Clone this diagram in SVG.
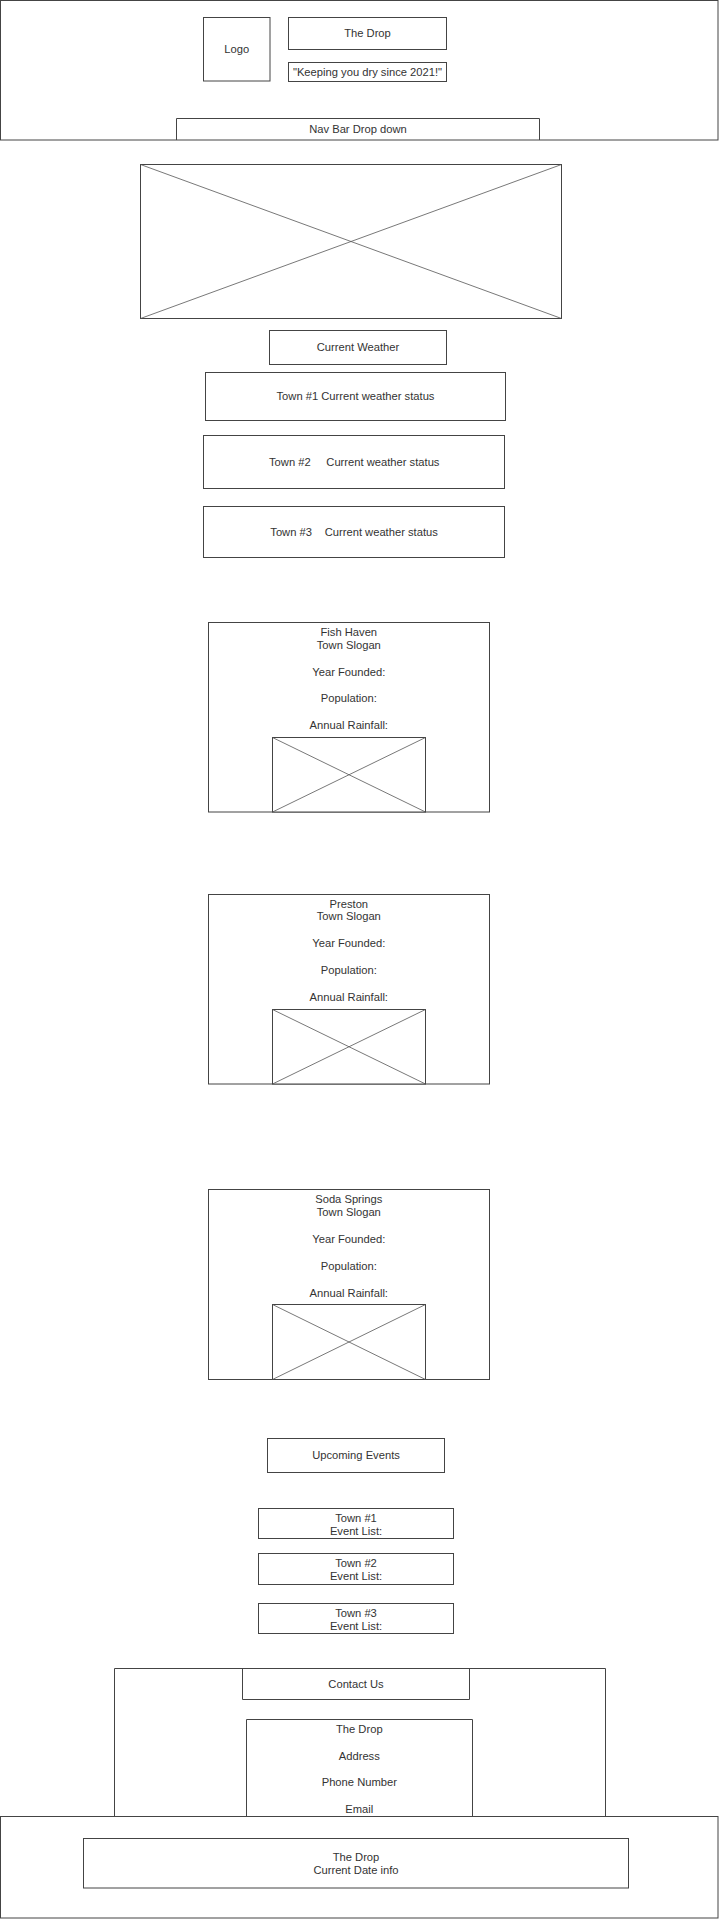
<svg xmlns="http://www.w3.org/2000/svg" width="719" height="1920" viewBox="0 0 719 1920">
<style>
  .b{fill:#fff;stroke:#444;stroke-width:1}
  .n{fill:none;stroke:#444;stroke-width:1}
  .x{stroke:#555;stroke-width:0.8}
  text{font-family:"Liberation Sans",Arial,sans-serif;font-size:11.2px;fill:#333;text-anchor:middle;dominant-baseline:central}
  .l{text-anchor:start}
</style>
<rect width="719" height="1920" fill="#fff"/>

<g id="header">
  <rect class="b" x="0.5" y="0.5" width="717.5" height="139.5"/>
</g>
<g id="logo">
  <rect class="b" x="203.5" y="17.5" width="66.5" height="63.5"/>
  <text x="236.8" y="49.3">Logo</text>
</g>
<g id="title">
  <rect class="b" x="288.5" y="17.5" width="158" height="32"/>
  <text x="367.5" y="33.3">The Drop</text>
</g>
<g id="slogan">
  <rect class="b" x="288.5" y="62.5" width="158" height="19"/>
  <text x="367.5" y="72">"Keeping you dry since 2021!"</text>
</g>
<g id="navbar">
  <path class="n" d="M176.5,140 V118.5 H539.5 V140"/>
  <text x="358" y="129">Nav Bar Drop down</text>
</g>

<g id="hero">
  <rect class="b" x="140.5" y="164.5" width="421" height="154"/>
  <line class="x" x1="140.5" y1="164.5" x2="561.5" y2="318.5"/>
  <line class="x" x1="561.5" y1="164.5" x2="140.5" y2="318.5"/>
</g>

<g id="current-weather">
  <rect class="b" x="269.5" y="330.5" width="177" height="34"/>
  <text x="358" y="347">Current Weather</text>
</g>
<g id="town1-weather">
  <rect class="b" x="205.5" y="372.5" width="300" height="48"/>
  <text x="355.5" y="396.3">Town #1 Current weather status</text>
</g>
<g id="town2-weather">
  <rect class="b" x="203.5" y="435.5" width="301" height="53"/>
  <text class="l" x="269" y="462">Town #2</text>
  <text class="l" x="326.3" y="462">Current weather status</text>
</g>
<g id="town3-weather">
  <rect class="b" x="203.5" y="506.5" width="301" height="51"/>
  <text class="l" x="270.3" y="531.5">Town #3</text>
  <text class="l" x="324.7" y="531.5">Current weather status</text>
</g>

<g id="fish-haven">
  <rect class="b" x="208.5" y="622.5" width="281" height="189.5"/>
  <text x="348.8" y="631.7">Fish Haven</text>
  <text x="348.8" y="644.6">Town Slogan</text>
  <text x="348.8" y="671.5">Year Founded:</text>
  <text x="348.8" y="698.3">Population:</text>
  <text x="348.8" y="725">Annual Rainfall:</text>
  <rect class="b" x="272.5" y="737.5" width="153" height="74.5"/>
  <line class="x" x1="272.5" y1="737.5" x2="425.5" y2="812"/>
  <line class="x" x1="425.5" y1="737.5" x2="272.5" y2="812"/>
</g>

<g id="preston">
  <rect class="b" x="208.5" y="894.5" width="281" height="189.5"/>
  <text x="348.8" y="903.5">Preston</text>
  <text x="348.8" y="916.2">Town Slogan</text>
  <text x="348.8" y="943.3">Year Founded:</text>
  <text x="348.8" y="970">Population:</text>
  <text x="348.8" y="996.7">Annual Rainfall:</text>
  <rect class="b" x="272.5" y="1009.5" width="153" height="74.5"/>
  <line class="x" x1="272.5" y1="1009.5" x2="425.5" y2="1084"/>
  <line class="x" x1="425.5" y1="1009.5" x2="272.5" y2="1084"/>
</g>

<g id="soda-springs">
  <rect class="b" x="208.5" y="1189.5" width="281" height="190"/>
  <text x="348.8" y="1198.8">Soda Springs</text>
  <text x="348.8" y="1212.3">Town Slogan</text>
  <text x="348.8" y="1239.3">Year Founded:</text>
  <text x="348.8" y="1265.6">Population:</text>
  <text x="348.8" y="1292.7">Annual Rainfall:</text>
  <rect class="b" x="272.5" y="1304.5" width="153" height="75"/>
  <line class="x" x1="272.5" y1="1304.5" x2="425.5" y2="1379.5"/>
  <line class="x" x1="425.5" y1="1304.5" x2="272.5" y2="1379.5"/>
</g>

<g id="upcoming-events">
  <rect class="b" x="267.5" y="1438.5" width="177" height="34"/>
  <text x="356" y="1455.3">Upcoming Events</text>
</g>
<g id="town1-events">
  <rect class="b" x="258.5" y="1508.5" width="195" height="30"/>
  <text x="356" y="1517.7">Town #1</text>
  <text x="356" y="1530.7">Event List:</text>
</g>
<g id="town2-events">
  <rect class="b" x="258.5" y="1553.5" width="195" height="31"/>
  <text x="356" y="1563.3">Town #2</text>
  <text x="356" y="1576">Event List:</text>
</g>
<g id="town3-events">
  <rect class="b" x="258.5" y="1603.5" width="195" height="30"/>
  <text x="356" y="1612.7">Town #3</text>
  <text x="356" y="1625.7">Event List:</text>
</g>

<g id="contact-section">
  <path class="n" d="M114.5,1816 V1668.5 H605.5 V1816"/>
</g>
<g id="contact-us">
  <path class="n" d="M242.5,1668.5 V1699.5 H469.5 V1668.5"/>
  <text x="356" y="1683.8">Contact Us</text>
</g>
<g id="contact-info">
  <path class="n" d="M246.5,1816 V1719.5 H472.5 V1816"/>
  <text x="359.3" y="1728.8">The Drop</text>
  <text x="359.3" y="1755.5">Address</text>
  <text x="359.3" y="1782.2">Phone Number</text>
  <text x="359.3" y="1808.8">Email</text>
</g>

<g id="footer">
  <rect class="b" x="0.5" y="1816.5" width="717.5" height="101.5"/>
</g>
<g id="footer-info">
  <rect class="b" x="83.5" y="1838.5" width="545" height="49.5"/>
  <text x="356" y="1856.8">The Drop</text>
  <text x="356" y="1870">Current Date info</text>
</g>

<g id="connectors"></g>
</svg>
